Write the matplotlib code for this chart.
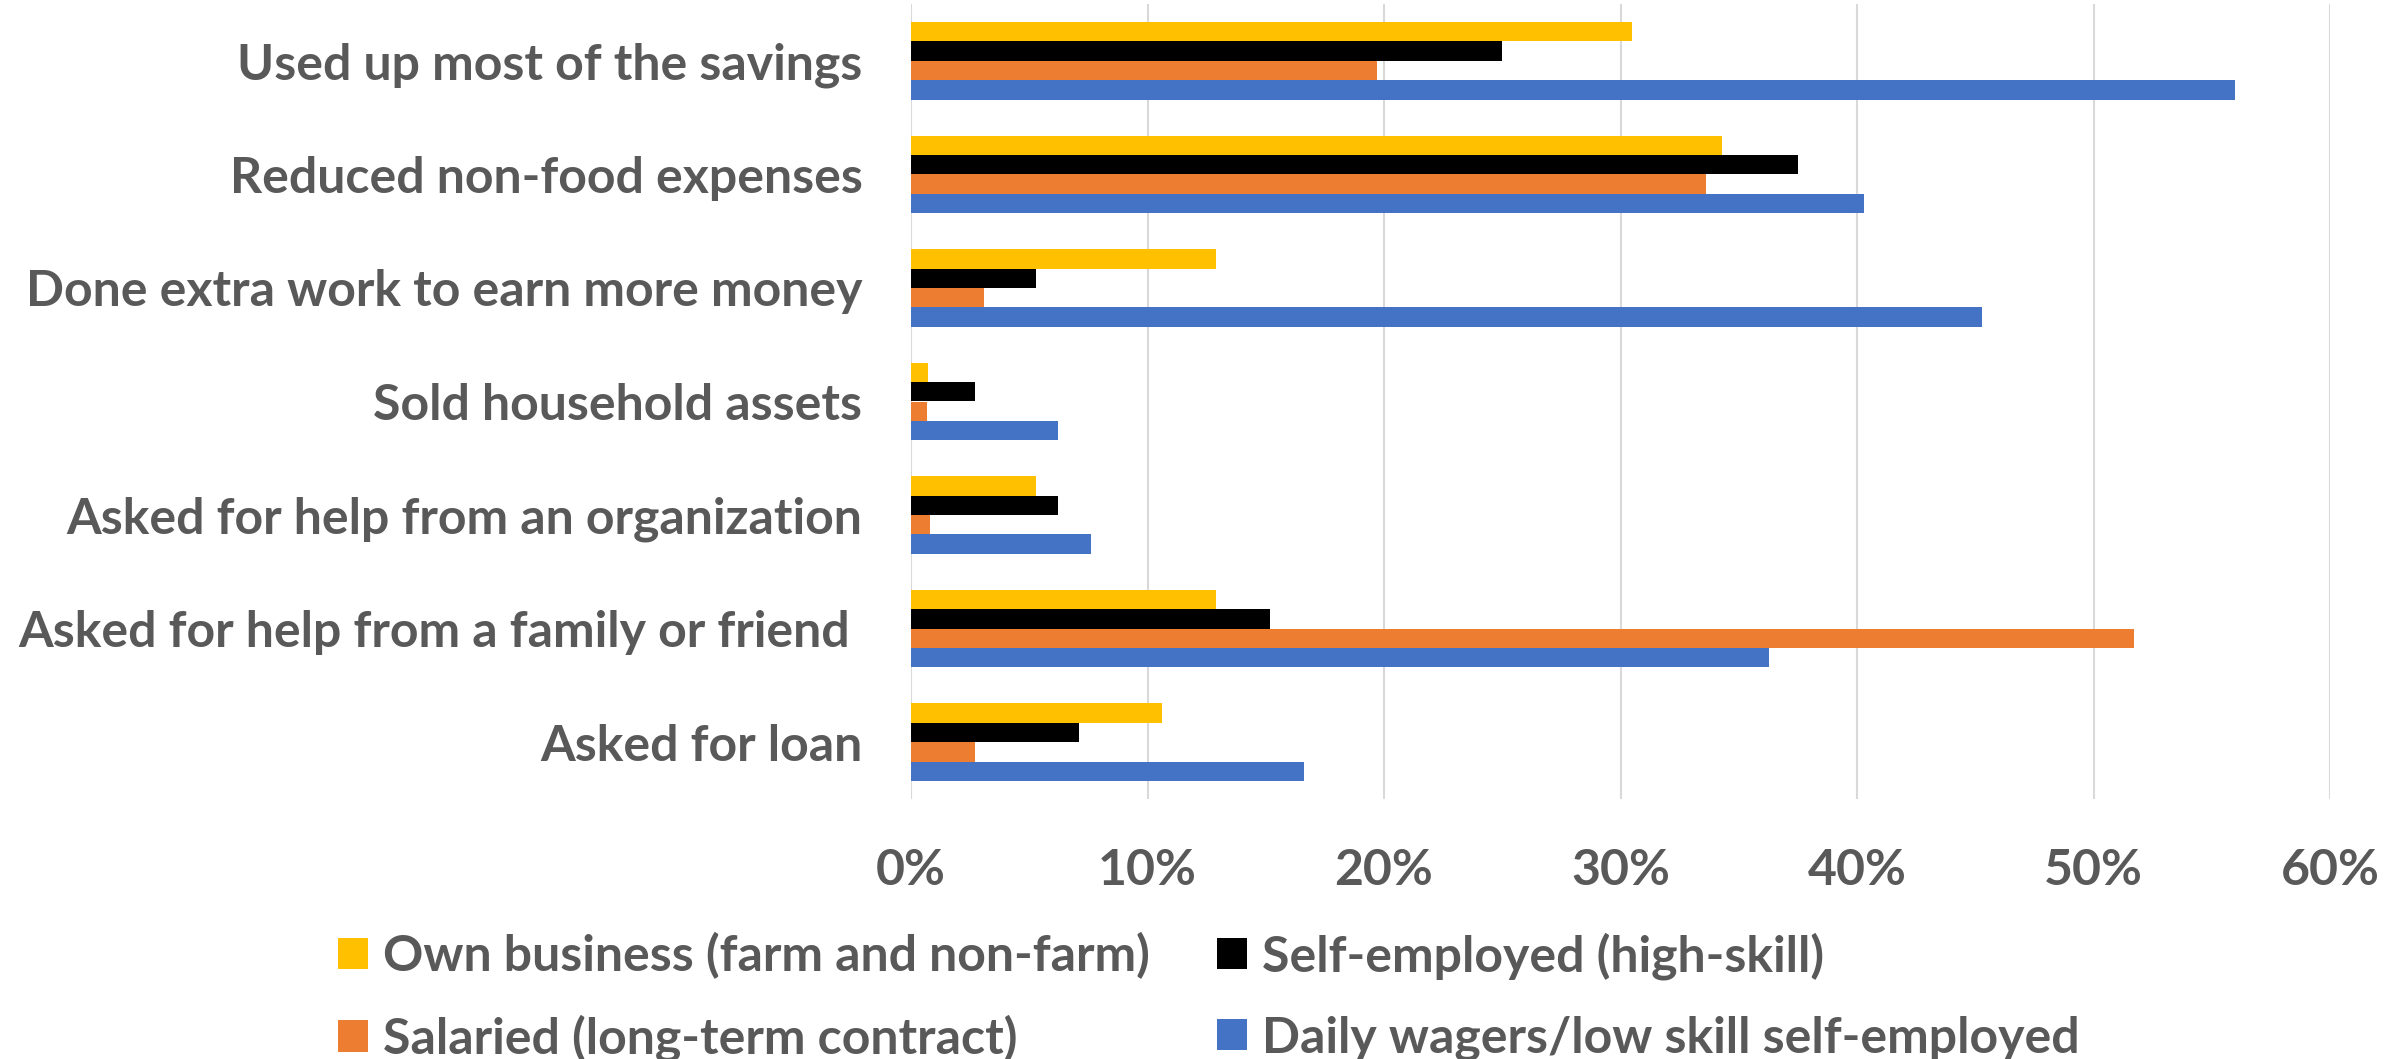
import numpy as np
import matplotlib.pyplot as plt
from matplotlib.ticker import FuncFormatter

plt.rcParams['font.family'] = ['Lato', 'DejaVu Sans']
plt.rcParams['font.weight'] = 'bold'

categories = [
    'Used up most of the savings',
    'Reduced non-food expenses',
    'Done extra work to earn more money',
    'Sold household assets',
    'Asked for help from an organization',
    'Asked for help from a family or friend ',
    'Asked for loan',
]
series_names = [
    'Own business (farm and non-farm)',
    'Self-employed (high-skill)',
    'Salaried (long-term contract)',
    'Daily wagers/low skill self-employed',
]
own_business = [30.5, 34.3, 12.9, 0.7, 5.3, 12.9, 10.6]
self_employed = [25.0, 37.5, 5.3, 2.7, 6.2, 15.2, 7.1]
salaried = [19.7, 33.6, 3.1, 0.66, 0.8, 51.7, 2.7]
daily_wagers = [56.0, 40.3, 45.3, 6.2, 7.6, 36.3, 16.6]

colors = ['#FFC000', '#000000', '#ED7D31', '#4472C4']
text_col = '#595959'
fs = 36

fig = plt.figure(figsize=(24.05, 10.59), dpi=100)
ax = fig.add_axes([911/2405, 1 - 799/1059, (2330 - 911)/2405, 795/1059])

y = np.arange(len(categories))
h = 0.171
for k, (vals, name, c) in enumerate(zip(
        [own_business, self_employed, salaried, daily_wagers], series_names, colors)):
    ax.barh(y + (k - 1.5)*h, vals, height=h, color=c, label=name, zorder=3)

ax.set_ylim(len(categories) - 0.5, -0.5)
ax.set_xlim(0, 60)
ax.set_xticks(np.arange(0, 61, 10))
ax.xaxis.set_major_formatter(FuncFormatter(lambda v, p: '%d%%' % v))
ax.set_yticks(y)
ax.set_yticklabels(categories)
ax.grid(axis='x', color='#D9D9D9', linewidth=1.5, zorder=0)
for s in ax.spines.values():
    s.set_visible(False)
ax.tick_params(axis='both', length=0, labelsize=fs, labelcolor=text_col)
ax.tick_params(axis='x', pad=35)
ax.tick_params(axis='y', pad=35)

# legend fills column-wise, so reorder to read row by row
handles, labels = ax.get_legend_handles_labels()
order = [0, 2, 1, 3]
fig.legend([handles[i] for i in order], [labels[i] for i in order],
           ncol=2, loc='upper left',
           bbox_to_anchor=(293/2405, 1 - 887/1059), frameon=False,
           fontsize=fs, labelcolor=text_col, handlelength=0.6, handleheight=0.6,
           handletextpad=0.3, columnspacing=1.35, labelspacing=0.71)

fig.savefig('out.png', dpi=100)
